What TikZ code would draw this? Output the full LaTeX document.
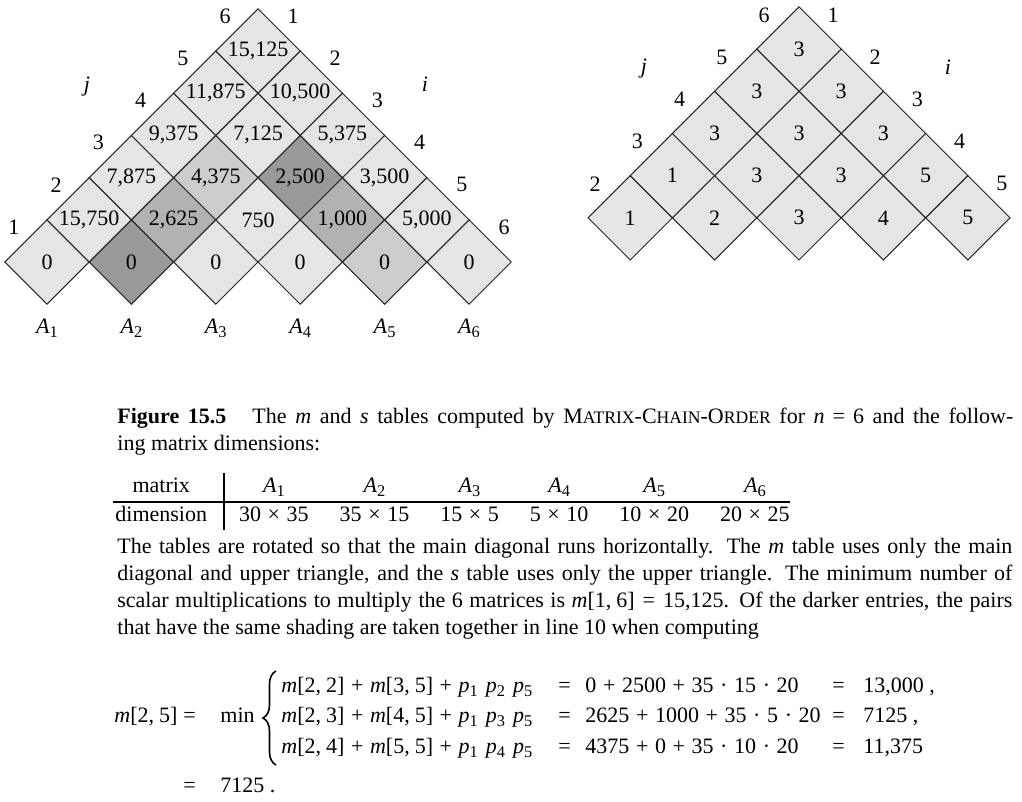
\documentclass[tikz,border=0pt]{standalone}
\usepackage{fontspec}
\setmainfont{Liberation Serif}
\usetikzlibrary{shapes.geometric, decorations.pathreplacing}

\newcommand{\smc}[1]{{\fontsize{8.8}{10}\selectfont #1}}
\newcommand{\bop}[1]{\hspace{3.3pt}#1\hspace{3.3pt}}
\newcommand{\rel}{\hspace{4pt}=\hspace{4pt}}
\newcommand{\mref}[2]{\textit{m}[#1,\hspace{2.5pt}#2]}
\newcommand{\subs}[1]{\raisebox{-2.2pt}{\fontsize{8.2}{9}\selectfont #1}}
\newcommand{\pp}[1]{\textit{p}\subs{#1}}
\newcommand{\mA}[1]{\textit{A}\subs{#1}}

\begin{document}
\begin{tikzpicture}[x=0.5pt, y=-0.5pt,
    cell/.style={diamond, aspect=1, draw=black!85, line width=0.5pt, minimum width=42.2pt, minimum height=42.2pt, inner sep=0pt, outer sep=0pt, fill=black!10, font=\fontsize{11}{13}\selectfont},
    pairA/.style={fill=black!40},
    pairB/.style={fill=black!30},
    pairC/.style={fill=black!20},
    idx/.style={inner sep=0pt, font=\fontsize{11}{13}\selectfont},
    txt/.style={inner sep=0pt, font=\fontsize{11}{13.6}\selectfont},
    eqn/.style={txt, anchor=base west}
]
    \useasboundingbox (0,0) rectangle (1022,802);

    % m table
    \node[cell] (m11) at (47,262) {0};
    \node[cell, pairA] (m22) at (131.4,262) {0};
    \node[cell] (m33) at (215.8,262) {0};
    \node[cell] (m44) at (300.2,262) {0};
    \node[cell, pairC] (m55) at (384.6,262) {0};
    \node[cell] (m66) at (469,262) {0};
    \node[cell] (m12) at (89.2,219.8) {15,750};
    \node[cell, pairB] (m23) at (173.6,219.8) {2,625};
    \node[cell] (m34) at (258,219.8) {750};
    \node[cell, pairB] (m45) at (342.4,219.8) {1,000};
    \node[cell] (m56) at (426.8,219.8) {5,000};
    \node[cell] (m13) at (131.4,177.6) {7,875};
    \node[cell, pairC] (m24) at (215.8,177.6) {4,375};
    \node[cell, pairA] (m35) at (300.2,177.6) {2,500};
    \node[cell] (m46) at (384.6,177.6) {3,500};
    \node[cell] (m14) at (173.6,135.4) {9,375};
    \node[cell] (m25) at (258,135.4) {7,125};
    \node[cell] (m36) at (342.4,135.4) {5,375};
    \node[cell] (m15) at (215.8,93.2) {11,875};
    \node[cell] (m26) at (300.2,93.2) {10,500};
    \node[cell] (m16) at (258,51) {15,125};

    % j and i indices of the m table
    \node[idx] (mj1) at ([shift={(-33,-35)}]m11) {1};
    \node[idx] (mj2) at ([shift={(-33,-35)}]m12) {2};
    \node[idx] (mj3) at ([shift={(-33,-35)}]m13) {3};
    \node[idx] (mj4) at ([shift={(-33,-35)}]m14) {4};
    \node[idx] (mj5) at ([shift={(-33,-35)}]m15) {5};
    \node[idx] (mj6) at ([shift={(-33,-35)}]m16) {6};
    \node[idx] (mi1) at ([shift={(35,-35)}]m16) {1};
    \node[idx] (mi2) at ([shift={(35,-35)}]m26) {2};
    \node[idx] (mi3) at ([shift={(35,-35)}]m36) {3};
    \node[idx] (mi4) at ([shift={(35,-35)}]m46) {4};
    \node[idx] (mi5) at ([shift={(35,-35)}]m56) {5};
    \node[idx] (mi6) at ([shift={(35,-35)}]m66) {6};
    \node[idx] (mjlab) at (87,87) {\textit{j}};
    \node[idx] (milab) at (425,84) {\textit{i}};

    \node[idx, anchor=base] (a1) at (47,333) {\mA{1}};
    \node[idx, anchor=base] (a2) at (131.4,333) {\mA{2}};
    \node[idx, anchor=base] (a3) at (215.8,333) {\mA{3}};
    \node[idx, anchor=base] (a4) at (300.2,333) {\mA{4}};
    \node[idx, anchor=base] (a5) at (384.6,333) {\mA{5}};
    \node[idx, anchor=base] (a6) at (469,333) {\mA{6}};

    % s table
    \node[cell] (s12) at (630.2,217.8) {1};
    \node[cell] (s23) at (714.6,217.8) {2};
    \node[cell] (s34) at (799,217.8) {3};
    \node[cell] (s45) at (883.4,217.8) {4};
    \node[cell] (s56) at (967.8,217.8) {5};
    \node[cell] (s13) at (672.4,175.6) {1};
    \node[cell] (s24) at (756.8,175.6) {3};
    \node[cell] (s35) at (841.2,175.6) {3};
    \node[cell] (s46) at (925.6,175.6) {5};
    \node[cell] (s14) at (714.6,133.4) {3};
    \node[cell] (s25) at (799,133.4) {3};
    \node[cell] (s36) at (883.4,133.4) {3};
    \node[cell] (s15) at (756.8,91.2) {3};
    \node[cell] (s26) at (841.2,91.2) {3};
    \node[cell] (s16) at (799,49) {3};

    \node[idx] (sj2) at ([shift={(-35,-34)}]s12) {2};
    \node[idx] (sj3) at ([shift={(-35,-34)}]s13) {3};
    \node[idx] (sj4) at ([shift={(-35,-34)}]s14) {4};
    \node[idx] (sj5) at ([shift={(-35,-34)}]s15) {5};
    \node[idx] (sj6) at ([shift={(-35,-34)}]s16) {6};
    \node[idx] (si1) at ([shift={(34,-34)}]s16) {1};
    \node[idx] (si2) at ([shift={(34,-34)}]s26) {2};
    \node[idx] (si3) at ([shift={(34,-34)}]s36) {3};
    \node[idx] (si4) at ([shift={(34,-34)}]s46) {4};
    \node[idx] (si5) at ([shift={(34,-34)}]s56) {5};
    \node[idx] (sjlab) at (644,69) {\textit{j}};
    \node[idx] (silab) at (948,67) {\textit{i}};

    % caption
    \node[txt, anchor=base west, text width=448pt, align=justify] (caption) at (117,423)
        {\textbf{Figure 15.5}\hspace{13pt}The \textit{m} and \textit{s} tables computed by M\smc{ATRIX}-C\smc{HAIN}-O\smc{RDER} for \textit{n}\rel 6 and the follow-\linebreak ing matrix dimensions:};

    \node[txt, anchor=north west] (dims) at (113,473)
        {\setlength{\arrayrulewidth}{1pt}\setlength{\tabcolsep}{0pt}%
         \begin{tabular}{@{\hspace{1pt}}c@{\hspace{8.5pt}}|@{\hspace{7pt}}c*{5}{@{\hspace{15.5pt}}c}}
         matrix & \mA{1} & \mA{2} & \mA{3} & \mA{4} & \mA{5} & \mA{6} \\ \hline
         dimension & 30\bop{×}35 & 35\bop{×}15 & 15\bop{×}5 & 5\bop{×}10 & 10\bop{×}20 & 20\bop{×}25
         \end{tabular}};

    \node[txt, anchor=base west, text width=447.5pt, align=justify] (para) at (117,553)
        {The tables are rotated so that the main diagonal runs horizontally. The \textit{m} table uses only the main\linebreak
         diagonal and upper triangle, and the \textit{s} table uses only the upper triangle. The minimum number of\linebreak
         scalar multiplications to multiply the 6 matrices is \mref{1}{6}\rel 15,125. Of the darker entries, the pairs\linebreak
         that have the same shading are taken together in line 10 when computing};

    % equation
    \node[eqn] (lhs) at (114,722) {\mref{2}{5}};
    \node[eqn] (eqa) at (183,722) {=};
    \node[eqn] (minop) at (220,722) {min};
    \coordinate (bracetop) at (276,671);
    \coordinate (bracebot) at (276,765);
    \draw[decorate, decoration={brace, amplitude=6.5pt}, line width=0.8pt] (bracebot) -- (bracetop);

    \node[eqn] (r1a) at (281,692) {\mref{2}{2}\bop{+}\mref{3}{5}\bop{+}\pp{1}\hspace{4pt}\pp{2}\hspace{4pt}\pp{5}};
    \node[eqn] (r1e) at (558,692) {=};
    \node[eqn] (r1b) at (585,692) {0\bop{+}2500\bop{+}35\bop{·}15\bop{·}20};
    \node[eqn] (r1f) at (832,692) {=};
    \node[eqn] (r1c) at (863,692) {13,000\ ,};

    \node[eqn] (r2a) at (281,722) {\mref{2}{3}\bop{+}\mref{4}{5}\bop{+}\pp{1}\hspace{4pt}\pp{3}\hspace{4pt}\pp{5}};
    \node[eqn] (r2e) at (558,722) {=};
    \node[eqn] (r2b) at (585,722) {2625\bop{+}1000\bop{+}35\bop{·}5\bop{·}20};
    \node[eqn] (r2f) at (832,722) {=};
    \node[eqn] (r2c) at (863,722) {7125\ ,};

    \node[eqn] (r3a) at (281,753) {\mref{2}{4}\bop{+}\mref{5}{5}\bop{+}\pp{1}\hspace{4pt}\pp{4}\hspace{4pt}\pp{5}};
    \node[eqn] (r3e) at (558,753) {=};
    \node[eqn] (r3b) at (585,753) {4375\bop{+}0\bop{+}35\bop{·}10\bop{·}20};
    \node[eqn] (r3f) at (832,753) {=};
    \node[eqn] (r3c) at (863,753) {11,375};

    \node[eqn] (eqb) at (183,792) {=};
    \node[eqn] (final) at (220,792) {7125\ .};
\end{tikzpicture}
\end{document}
